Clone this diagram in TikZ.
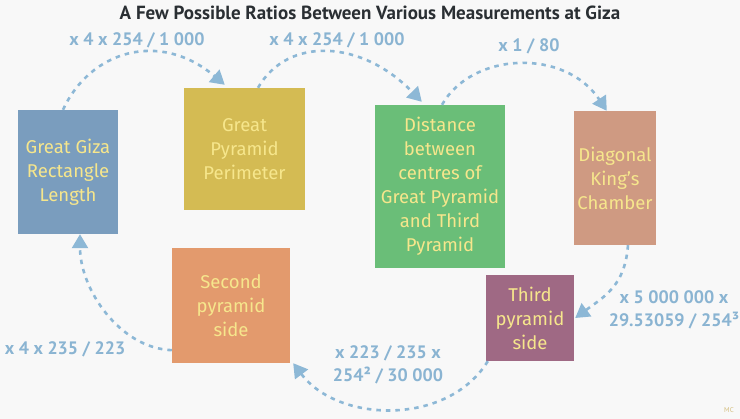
\documentclass[tikz,border=0pt]{standalone}
\usepackage{fontspec}
\setmainfont{Fira Sans}
\newfontfamily\ratiofont{PT Sans}
\usepackage{xcolor}
\usetikzlibrary{arrows.meta,positioning}

\definecolor{bgcol}{HTML}{F8F8F8}
\definecolor{gizablue}{HTML}{7A9DBE}
\definecolor{gizayellow}{HTML}{D4BB53}
\definecolor{gizagreen}{HTML}{6ABE78}
\definecolor{gizasalmon}{HTML}{CF9A82}
\definecolor{gizaorange}{HTML}{E39A6D}
\definecolor{gizapurple}{HTML}{9F6984}
\definecolor{boxtext}{HTML}{F6E68C}
\definecolor{arrowcol}{HTML}{8DB8D6}
\definecolor{ratiocol}{HTML}{8AB4D2}
\definecolor{titlecol}{HTML}{2A2F33}
\definecolor{markcol}{HTML}{D4BE7E}

\begin{document}
\begin{tikzpicture}[x=1pt, y=1pt,
    box/.style={inner sep=0pt, align=center, text=boxtext, font=\fontsize{18.5}{24}\selectfont},
    ratio/.style={inner sep=0pt, align=center, text=ratiocol, font=\ratiofont\bfseries\fontsize{18}{23}\selectfont},
    arr/.style={draw=arrowcol, line width=2.6pt, dash pattern=on 4.5pt off 5pt, -{Triangle[length=14pt,width=16pt]}}
  ]
    \fill[bgcol] (0,0) rectangle (740,-419);
    \useasboundingbox (0,0) rectangle (740,-419);

    \node[font=\ratiofont\bfseries\fontsize{19}{23}\selectfont, text=titlecol] (title) at (370,-13) {A Few Possible Ratios Between Various Measurements at Giza};

    \node[box, fill=gizablue, minimum width=100pt, minimum height=124pt] (rect) at (68,-172) {Great Giza\\Rectangle\\Length};
    \node[box, fill=gizayellow, minimum width=121pt, minimum height=122pt] (perim) at (244.5,-149) {Great\\Pyramid\\Perimeter};
    \node[box, fill=gizagreen, minimum width=130pt, minimum height=163pt] (dist) at (440,-186.5) {Distance\\between\\centres of\\Great Pyramid\\and Third\\Pyramid};
    \node[box, fill=gizasalmon, minimum width=82pt, minimum height=134pt] (king) at (615,-178) {Diagonal\\King’s\\Chamber};
    \node[box, fill=gizaorange, minimum width=118pt, minimum height=115pt] (second) at (231,-305.5) {Second\\pyramid\\side};
    \node[box, fill=gizapurple, minimum width=88pt, minimum height=86pt] (third) at (530,-318) {Third\\pyramid\\side};

    \node[ratio] (r1) at (137,-40) {x 4 x 254 / 1 000};
    \node[ratio] (r2) at (337,-40) {x 4 x 254 / 1 000};
    \node[ratio] (r3) at (529,-46) {x 1 / 80};
    \node[ratio] (r4) at (674,-310) {x 5 000 000 x\\29.53059 / 254³};
    \node[ratio] (r5) at (388,-365) {x 223 / 235 x\\254² / 30 000};
    \node[ratio] (r6) at (65,-349) {x 4 x 235 / 223};

    \node[font=\ratiofont\fontsize{7}{8}\selectfont, text=markcol] (mc) at (729,-410) {MC};

    \draw[arr] ([xshift=-5pt]rect.north) .. controls +(27,59) and +(-65,55) .. ([xshift=41pt,yshift=3pt]perim.north west);
    \draw[arr] ([xshift=13.5pt]perim.north) .. controls +(30,52) and +(-60,62) .. ([xshift=47pt,yshift=3pt]dist.north west);
    \draw[arr] ([xshift=2pt]dist.north) .. controls +(30,53) and +(-42,63) .. ([xshift=33pt]king.north west);
    \draw[arr] ([xshift=13pt]king.south) .. controls +(-3,-40) and +(30,22) .. ([xshift=1pt]third.east);
    \draw[arr] ([xshift=2pt]third.south west) .. controls +(-40,-65) and +(45,-60) .. ([xshift=3pt]second.south east);
    \draw[arr] ([yshift=13pt]second.south west) .. controls +(-52,2) and +(0,-55) .. ([xshift=12pt]rect.south);
  \end{tikzpicture}
\end{document}
